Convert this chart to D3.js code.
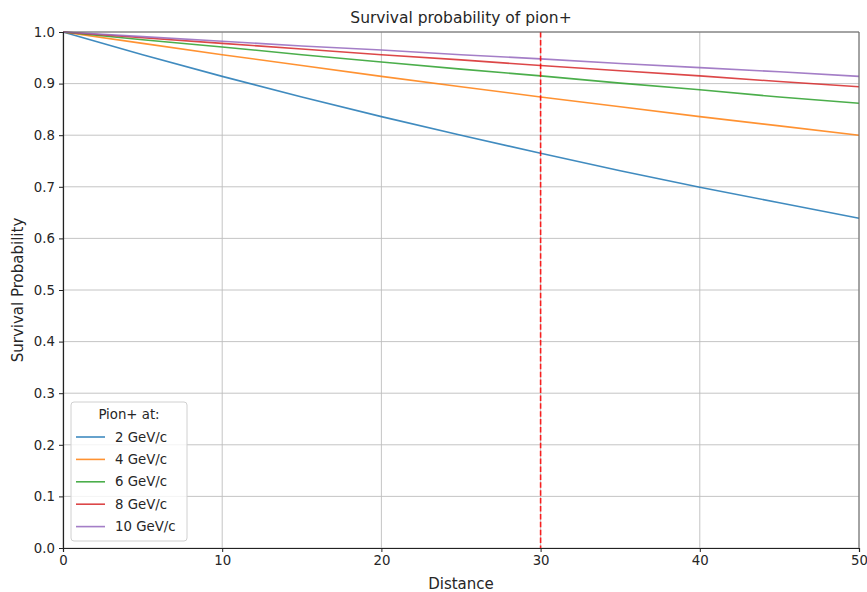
<!DOCTYPE html>
<html>
<head>
<meta charset="utf-8">
<script src="https://cdn.jsdelivr.net/npm/d3@7"></script>
<style>
  body { margin: 0; background: #fff; }
  text { font-family: "DejaVu Sans", sans-serif; fill: #262626; }
</style>
</head>
<body>
<svg id="chart" width="867" height="592"></svg>
<script>
const distances = [0, 5, 10, 15, 20, 25, 30, 35, 40, 45, 50];
const seriesNames = ["2 GeV/c", "4 GeV/c", "6 GeV/c", "8 GeV/c", "10 GeV/c"];
const p2  = [1.000, 0.956, 0.914, 0.874, 0.836, 0.800, 0.765, 0.731, 0.699, 0.669, 0.639];
const p4  = [1.000, 0.978, 0.956, 0.935, 0.914, 0.894, 0.874, 0.855, 0.836, 0.818, 0.800];
const p6  = [1.000, 0.985, 0.971, 0.956, 0.942, 0.928, 0.915, 0.901, 0.888, 0.874, 0.862];
const p8  = [1.000, 0.989, 0.978, 0.967, 0.956, 0.946, 0.935, 0.925, 0.915, 0.904, 0.894];
const p10 = [1.000, 0.991, 0.982, 0.973, 0.965, 0.956, 0.948, 0.939, 0.931, 0.923, 0.914];
const colors = ["#1f77b4", "#ff7f0e", "#2ca02c", "#d62728", "#9467bd"];
const xTicks = [0, 10, 20, 30, 40, 50];
const yTicks = [0.0, 0.1, 0.2, 0.3, 0.4, 0.5, 0.6, 0.7, 0.8, 0.9, 1.0];
const markerX = 30;
const titleText = "Survival probability of pion+";
const xLabel = "Distance";
const yLabel = "Survival Probability";
const legendTitle = "Pion+ at:";

const allSeries = [p2, p4, p6, p8, p10];
const svg = d3.select("#chart");
const m = {left: 63, right: 859, top: 32, bottom: 548};

const x = d3.scaleLinear().domain([0, 50]).range([m.left, m.right]);
const y = d3.scaleLinear().domain([0, 1]).range([m.bottom, m.top]);

// grid
const g = svg.append("g");
g.selectAll("line.gx").data(xTicks).join("line")
  .attr("x1", d => x(d)).attr("x2", d => x(d))
  .attr("y1", m.top).attr("y2", m.bottom)
  .attr("stroke", "#bdbdbd").attr("stroke-width", 0.9);
g.selectAll("line.gy").data(yTicks).join("line")
  .attr("y1", d => y(d)).attr("y2", d => y(d))
  .attr("x1", m.left).attr("x2", m.right)
  .attr("stroke", "#bdbdbd").attr("stroke-width", 0.9);

// lines
const line = d3.line().x((d, i) => x(distances[i])).y(d => y(d));
svg.append("g").selectAll("path").data(allSeries).join("path")
  .attr("d", d => line(d))
  .attr("fill", "none")
  .attr("stroke", (d, i) => colors[i])
  .attr("stroke-opacity", 0.85)
  .attr("stroke-width", 1.6);

// vertical dashed line
svg.append("line")
  .attr("x1", x(markerX)).attr("x2", x(markerX))
  .attr("y1", m.top).attr("y2", m.bottom)
  .attr("stroke", "#ff0000").attr("stroke-opacity", 0.85).attr("stroke-width", 1.6)
  .attr("stroke-dasharray", "5.5,2.4");

// spines
svg.append("line").attr("x1", m.left).attr("x2", m.right).attr("y1", m.top).attr("y2", m.top).attr("stroke", "#666").attr("stroke-width", 1);
svg.append("line").attr("x1", m.right).attr("x2", m.right).attr("y1", m.top).attr("y2", m.bottom).attr("stroke", "#666").attr("stroke-width", 1);

// axes
const xAxis = svg.append("g").attr("transform", `translate(0,${m.bottom})`)
  .call(d3.axisBottom(x).tickValues(xTicks).tickFormat(d3.format("d")).tickSizeOuter(0).tickSize(4).tickPadding(4));
const yAxis = svg.append("g").attr("transform", `translate(${m.left},0)`)
  .call(d3.axisLeft(y).tickValues(yTicks).tickFormat(d3.format(".1f")).tickSizeOuter(0).tickSize(4).tickPadding(4));
[xAxis, yAxis].forEach(a => {
  a.select(".domain").attr("stroke", "#222").attr("stroke-width", 1.2);
  a.selectAll(".tick line").attr("stroke", "#222");
  a.selectAll(".tick text").style("font-family", "DejaVu Sans, sans-serif").style("font-size", "13.3px").attr("fill", "#262626");
});

// title & labels
svg.append("text").attr("x", (m.left + m.right) / 2).attr("y", 23)
  .attr("text-anchor", "middle").style("font-size", "15.5px").text(titleText);
svg.append("text").attr("x", (m.left + m.right) / 2).attr("y", 589)
  .attr("text-anchor", "middle").style("font-size", "15px").text(xLabel);
svg.append("text").attr("transform", `translate(23,${(m.top + m.bottom) / 2}) rotate(-90)`)
  .attr("text-anchor", "middle").style("font-size", "15px").text(yLabel);

// legend
const lg = svg.append("g").attr("transform", "translate(71,402)");
lg.append("rect").attr("width", 116).attr("height", 139).attr("rx", 3)
  .attr("fill", "#fff").attr("fill-opacity", 0.8).attr("stroke", "#d0d0d0").attr("stroke-width", 1);
lg.append("text").attr("x", 58).attr("y", 17).attr("text-anchor", "middle").style("font-size", "13.3px").text(legendTitle);
seriesNames.forEach((name, i) => {
  const yy = 35 + i * 22.4;
  lg.append("line").attr("x1", 5).attr("x2", 34).attr("y1", yy).attr("y2", yy)
    .attr("stroke", colors[i]).attr("stroke-opacity", 0.85).attr("stroke-width", 1.6);
  lg.append("text").attr("x", 44).attr("y", yy + 4.5).style("font-size", "13.3px").text(name);
});
</script>
</body>
</html>
